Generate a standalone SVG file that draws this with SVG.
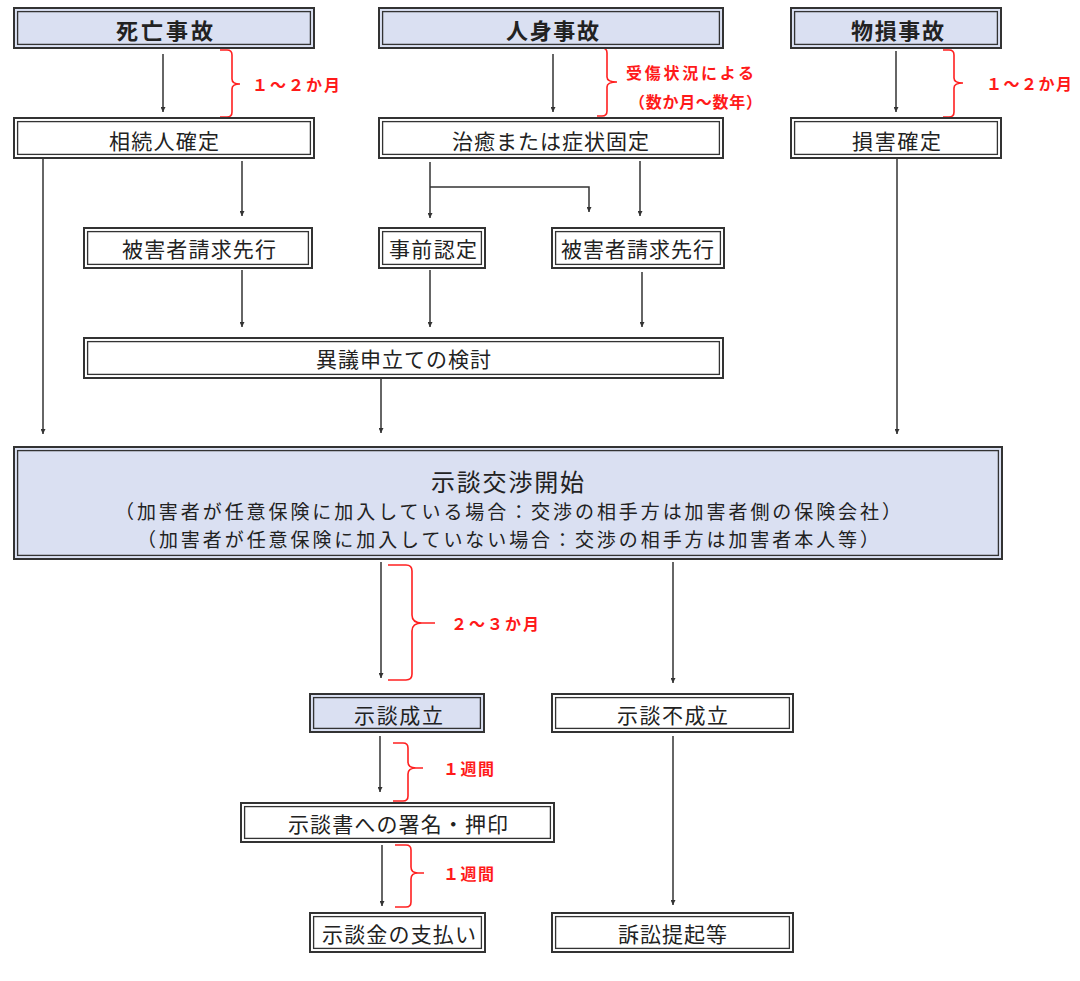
<svg xmlns="http://www.w3.org/2000/svg" width="1080" height="981" viewBox="0 0 1080 981">
<style>
  .o{stroke:#333;stroke-width:2;fill:#fff}
  .lav{fill:#dae0f2}
  .i{stroke:#333;stroke-width:1.3;fill:none}
  .t{font-family:"Noto Sans CJK JP","Noto Sans CJK SC",sans-serif;font-size:21px;fill:#222;text-anchor:middle;dominant-baseline:central}
  .b{font-weight:bold;font-size:22px}
  .r{font-family:"Noto Sans CJK JP","Noto Sans CJK SC",sans-serif;font-size:16px;font-weight:bold;fill:#ff1a1a;dominant-baseline:central}
  .c{stroke:#333;stroke-width:1.5;fill:none}
  .br{stroke:#ff2020;stroke-width:1.6;fill:none}
</style>
<defs>
  <marker id="ah" viewBox="0 0 6 6" refX="6" refY="3" markerWidth="5" markerHeight="5" markerUnits="userSpaceOnUse" orient="auto">
    <path d="M0,0 L6,3 L0,6 z" fill="#333"/>
  </marker>
</defs>
<rect width="1080" height="981" fill="#fff"/>

<g id="connectors">
  <path class="c" d="M163 54 V112" marker-end="url(#ah)"/>
  <path class="c" d="M553 54 V112" marker-end="url(#ah)"/>
  <path class="c" d="M896 51 V112" marker-end="url(#ah)"/>
  <path class="c" d="M43 159 V434" marker-end="url(#ah)"/>
  <path class="c" d="M242 161 V216" marker-end="url(#ah)"/>
  <path class="c" d="M430 162 V218" marker-end="url(#ah)"/>
  <path class="c" d="M430 187 H589 V212" marker-end="url(#ah)"/>
  <path class="c" d="M640 161 V216" marker-end="url(#ah)"/>
  <path class="c" d="M242 270 V327" marker-end="url(#ah)"/>
  <path class="c" d="M430 270 V327" marker-end="url(#ah)"/>
  <path class="c" d="M642 272 V327" marker-end="url(#ah)"/>
  <path class="c" d="M381 379 V433" marker-end="url(#ah)"/>
  <path class="c" d="M897 159 V434" marker-end="url(#ah)"/>
  <path class="c" d="M381 562 V678" marker-end="url(#ah)"/>
  <path class="c" d="M673 562 V683" marker-end="url(#ah)"/>
  <path class="c" d="M380 736 V792" marker-end="url(#ah)"/>
  <path class="c" d="M673 736 V905" marker-end="url(#ah)"/>
  <path class="c" d="M382 845 V906" marker-end="url(#ah)"/>
</g>

<g id="brackets">
  <path class="br" d="M220 50 H227 Q232 50 232 55 V79 Q232 84 240 84 Q232 84 232 89 V112 Q232 117 227 117 H220"/>
  <path class="br" d="M597 48 H602 Q607 48 607 53 V77 Q607 82 617 82 Q607 82 607 87 V111 Q607 116 602 116 H597"/>
  <path class="br" d="M943 50 H949 Q954 50 954 55 V78 Q954 83 963 83 Q954 83 954 88 V112 Q954 117 949 117 H943"/>
  <path class="br" d="M388 565 H406 Q412 565 412 571 V615 Q412 623 422 623 H435 M422 623 Q412 623 412 631 V674 Q412 680 406 680 H388"/>
  <path class="br" d="M393 743 H403 Q408 743 408 748 V762 Q408 768 416 768 H423 M416 768 Q408 768 408 774 V796 Q408 801 403 801 H393"/>
  <path class="br" d="M395 845 H406 Q411 845 411 850 V867 Q411 873 418 873 H424 M418 873 Q411 873 411 879 V902 Q411 907 406 907 H395"/>
  <text class="r" x="252" y="84" textLength="88" lengthAdjust="spacing">１～２か月</text>
  <text class="r" x="626" y="72" textLength="128" lengthAdjust="spacing">受傷状況による</text>
  <text class="r" x="629" y="101" textLength="133" lengthAdjust="spacing">（数か月～数年）</text>
  <text class="r" x="986" y="83" textLength="86" lengthAdjust="spacing">１～２か月</text>
  <text class="r" x="451" y="623" textLength="88" lengthAdjust="spacing">２～３か月</text>
  <text class="r" x="443" y="768" textLength="51" lengthAdjust="spacing">１週間</text>
  <text class="r" x="443" y="873" textLength="51" lengthAdjust="spacing">１週間</text>
</g>

<g id="n-shibou">
  <rect class="o lav" x="14" y="8" width="300" height="40"/>
  <rect class="i" x="17.6" y="11.6" width="292.8" height="32.8"/>
  <text class="t b" x="164.5" y="29" textLength="97" lengthAdjust="spacing">死亡事故</text>
</g>
<g id="n-jinshin">
  <rect class="o lav" x="379" y="8" width="344" height="40"/>
  <rect class="i" x="382.6" y="11.6" width="336.8" height="32.8"/>
  <text class="t b" x="552.5" y="29" textLength="93" lengthAdjust="spacing">人身事故</text>
</g>
<g id="n-busson">
  <rect class="o lav" x="791" y="8" width="210" height="40"/>
  <rect class="i" x="794.6" y="11.6" width="202.8" height="32.8"/>
  <text class="t b" x="897.5" y="29" textLength="93" lengthAdjust="spacing">物損事故</text>
</g>

<g id="n-souzoku">
  <rect class="o" x="14" y="118" width="300" height="40"/>
  <rect class="i" x="17.6" y="121.6" width="292.8" height="32.8"/>
  <text class="t" x="164" y="140" textLength="110" lengthAdjust="spacing">相続人確定</text>
</g>
<g id="n-chiyu">
  <rect class="o" x="379" y="118" width="344" height="40"/>
  <rect class="i" x="382.6" y="121.6" width="336.8" height="32.8"/>
  <text class="t" x="550.5" y="140" textLength="197" lengthAdjust="spacing">治癒または症状固定</text>
</g>
<g id="n-songai">
  <rect class="o" x="791" y="118" width="210" height="40"/>
  <rect class="i" x="794.6" y="121.6" width="202.8" height="32.8"/>
  <text class="t" x="896.5" y="140" textLength="89" lengthAdjust="spacing">損害確定</text>
</g>

<g id="n-higai1">
  <rect class="o" x="84" y="228" width="228" height="40"/>
  <rect class="i" x="87.6" y="231.6" width="220.8" height="32.8"/>
  <text class="t" x="199" y="248" textLength="154" lengthAdjust="spacing">被害者請求先行</text>
</g>
<g id="n-jizen">
  <rect class="o" x="379" y="228" width="106" height="40"/>
  <rect class="i" x="382.6" y="231.6" width="98.8" height="32.8"/>
  <text class="t" x="433" y="248" textLength="88" lengthAdjust="spacing">事前認定</text>
</g>
<g id="n-higai2">
  <rect class="o" x="552" y="228" width="172" height="40"/>
  <rect class="i" x="555.6" y="231.6" width="164.8" height="32.8"/>
  <text class="t" x="637.5" y="248" textLength="153" lengthAdjust="spacing">被害者請求先行</text>
</g>

<g id="n-igi">
  <rect class="o" x="84" y="338" width="639" height="40"/>
  <rect class="i" x="87.6" y="341.6" width="631.8" height="32.8"/>
  <text class="t" x="403.5" y="358" textLength="175" lengthAdjust="spacing">異議申立ての検討</text>
</g>

<g id="n-jidan-kaishi">
  <rect class="o lav" x="14" y="447" width="988" height="112"/>
  <rect class="i" x="17.6" y="450.6" width="980.8" height="104.8"/>
  <text class="t" style="font-size:24px" x="507.5" y="480" textLength="153" lengthAdjust="spacing">示談交渉開始</text>
  <text class="t" style="font-size:19px" x="508" y="510.5" textLength="786" lengthAdjust="spacing">（加害者が任意保険に加入している場合：交渉の相手方は加害者側の保険会社）</text>
  <text class="t" style="font-size:19px" x="508" y="538.5" textLength="742" lengthAdjust="spacing">（加害者が任意保険に加入していない場合：交渉の相手方は加害者本人等）</text>
</g>

<g id="n-seiritsu">
  <rect class="o lav" x="310" y="694" width="174" height="38"/>
  <rect class="i" x="313.6" y="697.6" width="166.8" height="30.8"/>
  <text class="t" x="398.5" y="714" textLength="89" lengthAdjust="spacing">示談成立</text>
</g>
<g id="n-fuseiritsu">
  <rect class="o" x="552" y="694" width="241" height="38"/>
  <rect class="i" x="555.6" y="697.6" width="233.8" height="30.8"/>
  <text class="t" x="672.5" y="714" textLength="111" lengthAdjust="spacing">示談不成立</text>
</g>

<g id="n-shomei">
  <rect class="o" x="241" y="803" width="313" height="39"/>
  <rect class="i" x="244.6" y="806.6" width="305.8" height="31.8"/>
  <text class="t" x="398" y="823" textLength="220" lengthAdjust="spacing">示談書への署名・押印</text>
</g>

<g id="n-shiharai">
  <rect class="o" x="310" y="913" width="175" height="39"/>
  <rect class="i" x="313.6" y="916.6" width="167.8" height="31.8"/>
  <text class="t" x="399" y="933" textLength="154" lengthAdjust="spacing">示談金の支払い</text>
</g>
<g id="n-soshou">
  <rect class="o" x="552" y="913" width="241" height="39"/>
  <rect class="i" x="555.6" y="916.6" width="233.8" height="31.8"/>
  <text class="t" x="672.5" y="933" textLength="109" lengthAdjust="spacing">訴訟提起等</text>
</g>
</svg>
